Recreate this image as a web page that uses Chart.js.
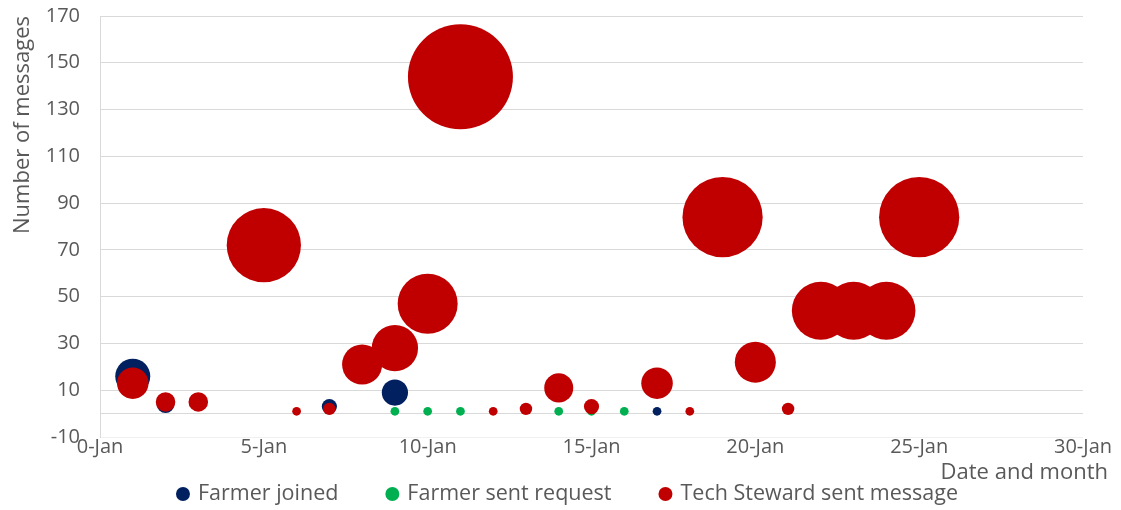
<!DOCTYPE html>
<html>
<head>
<meta charset="utf-8">
<title>Messages per day</title>
<script src="https://cdn.jsdelivr.net/npm/chart.js@4.4.1/dist/chart.umd.min.js"></script>
<style>
  html, body { margin: 0; padding: 0; background: #ffffff; }
  #wrap { width: 1121px; height: 510px; position: relative; }
</style>
</head>
<body>
<div id="wrap"><canvas id="chart" width="1121" height="510"></canvas></div>
<script>
// Series names and colours
const seriesNames = ['Farmer joined', 'Farmer sent request', 'Tech Steward sent message'];
const seriesColors = ['#002060', '#00B050', '#C00000'];

// Day of January and number of messages for each series
const joinedDays = [1, 2, 7, 9, 17];
const joinedCounts = [16, 4, 3, 9, 1];

const requestDays = [9, 10, 11, 14, 15, 16];
const requestCounts = [1, 1, 1, 1, 1, 1];

const stewardDays = [1, 2, 3, 5, 6, 7, 8, 9, 10, 11, 12, 13, 14, 15, 17, 18, 19, 20, 21, 22, 23, 24, 25];
const stewardCounts = [13, 5, 5, 72, 1, 2, 21, 28, 47, 144, 1, 2, 11, 3, 13, 1, 84, 22, 2, 44, 44, 44, 84];

// Axis ticks
const xTicks = [0, 5, 10, 15, 20, 25, 30];
const yTicks = [-10, 10, 30, 50, 70, 90, 110, 130, 150, 170];

// Bubble area is proportional to the message count
const RADIUS_PER_ROOT = 4.375;
function toBubbles(days, counts) {
  return days.map((d, i) => ({ x: d, y: counts[i], r: RADIUS_PER_ROOT * Math.sqrt(counts[i]) }));
}

const FONT = "'Open Sans', sans-serif";
const TEXT = '#595959';
const GRID = '#d9d9d9';

// Horizontal axis title, right-aligned past the last tick
const xAxisTitle = {
  id: 'xAxisTitle',
  afterDraw(chart) {
    const { ctx, chartArea } = chart;
    ctx.save();
    ctx.font = '22px ' + FONT;
    ctx.fillStyle = TEXT;
    ctx.textAlign = 'right';
    ctx.textBaseline = 'alphabetic';
    ctx.fillText('Date and month', chartArea.right + 25, chartArea.bottom + 42);
    ctx.restore();
  }
};

// Single-row legend under the axis: dot marker followed by the series name
const bottomLegend = {
  id: 'bottomLegend',
  afterDraw(chart) {
    const { ctx } = chart;
    const R = 7, TEXT_GAP = 15, ITEM_GAP = 54, CENTER_X = 567, BASELINE = 500, DOT_Y = 494;
    ctx.save();
    ctx.font = '21.5px ' + FONT;
    const items = chart.data.datasets.map(ds => ({
      text: ds.label, color: ds.backgroundColor, w: ctx.measureText(ds.label).width
    }));
    const total = R + items.reduce((s, it) => s + TEXT_GAP + it.w, 0) + ITEM_GAP * (items.length - 1);
    let x = CENTER_X - total / 2 + R;
    items.forEach(it => {
      ctx.fillStyle = it.color;
      ctx.beginPath();
      ctx.arc(x, DOT_Y, R, 0, Math.PI * 2);
      ctx.fill();
      ctx.fillStyle = TEXT;
      ctx.textAlign = 'left';
      ctx.textBaseline = 'alphabetic';
      ctx.fillText(it.text, x + TEXT_GAP, BASELINE);
      x += TEXT_GAP + it.w + ITEM_GAP;
    });
    ctx.restore();
  }
};

new Chart(document.getElementById('chart'), {
  type: 'bubble',
  data: {
    datasets: [
      { label: seriesNames[0], data: toBubbles(joinedDays, joinedCounts), backgroundColor: seriesColors[0], borderWidth: 0, order: 3 },
      { label: seriesNames[1], data: toBubbles(requestDays, requestCounts), backgroundColor: seriesColors[1], borderWidth: 0, order: 2 },
      { label: seriesNames[2], data: toBubbles(stewardDays, stewardCounts), backgroundColor: seriesColors[2], borderWidth: 0, order: 1 }
    ]
  },
  options: {
    responsive: false,
    animation: false,
    events: [],
    layout: { autoPadding: false, padding: { top: 16, right: 38, bottom: 33, left: 0 } },
    plugins: {
      tooltip: { enabled: false },
      legend: { display: false }
    },
    scales: {
      x: {
        type: 'linear',
        min: 0,
        max: 30,
        afterBuildTicks: s => { s.ticks = xTicks.map(v => ({ value: v })); },
        afterFit: s => { s.height = 40; },
        ticks: {
          callback: v => v + '-Jan',
          color: TEXT,
          font: { family: FONT, size: 20 },
          padding: -2,
          maxRotation: 0,
          autoSkip: false
        },
        grid: { display: false, drawTicks: false },
        border: { display: false }
      },
      y: {
        type: 'linear',
        min: -10,
        max: 170,
        afterBuildTicks: s => {
          s.ticks = [yTicks[0], 0, ...yTicks.slice(1)].map(v => ({ value: v }));
        },
        afterFit: s => {
          s.width = 100;
          s.paddingTop = 4;
          s.paddingBottom = 4;
        },
        ticks: {
          callback: v => (v === 0 ? '' : v),
          color: TEXT,
          font: { family: FONT, size: 20 },
          padding: 20,
          autoSkip: false
        },
        grid: {
          drawTicks: false,
          color: c => (c.tick && c.tick.value === -10 ? '#f0f0f0' : GRID),
          lineWidth: 1
        },
        border: { display: true, color: GRID },
        title: {
          display: true,
          text: 'Number of messages',
          align: 'end',
          color: TEXT,
          font: { family: FONT, size: 22 },
          padding: { top: 10, bottom: 0 }
        }
      }
    }
  },
  plugins: [xAxisTitle, bottomLegend]
});
</script>
</body>
</html>
